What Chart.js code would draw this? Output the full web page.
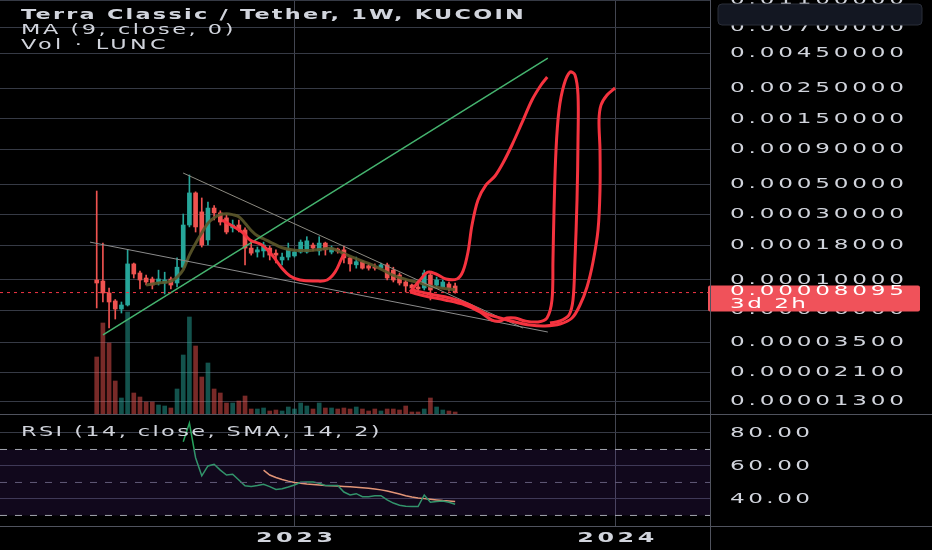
<!DOCTYPE html>
<html>
<head>
<meta charset="utf-8">
<title>Terra Classic / Tether, 1W, KUCOIN</title>
<script src="https://cdn.jsdelivr.net/npm/chart.js@4.4.1/dist/chart.umd.min.js"></script>
<style>
  html, body { margin: 0; padding: 0; background: #000; width: 932px; height: 550px; overflow: hidden; font-family: "DejaVu Sans", sans-serif; }
  .pane { position: absolute; left: 0; width: 932px; }
  #mainPane { top: 0; height: 414px; }
  #rsiPane { top: 415px; height: 135px; }
  .legend { position: absolute; left: 21px; color: #d1d4dc; font-size: 14px; line-height: 16px; white-space: nowrap; transform-origin: 0 50%; }
  .rule { position: absolute; background: #50535e; }
</style>
</head>
<body>
<div class="pane" id="mainPane"><canvas id="mainChart"></canvas></div>
<div class="pane" id="rsiPane"><canvas id="rsiChart"></canvas></div>
<div class="rule" style="left:0;top:414px;width:932px;height:1px"></div>
<div class="rule" style="left:0;top:526px;width:932px;height:1px"></div>
<div class="rule" style="left:710px;top:0;width:1px;height:550px"></div>
<div class="legend" id="lgTitle" style="top:6px;font-weight:bold">Terra Classic / Tether, 1W, KUCOIN</div>
<div class="legend" id="lgMa" style="top:21px">MA (9, close, 0)</div>
<div class="legend" id="lgVol" style="top:36px">Vol · LUNC</div>
<div class="legend" id="lgRsi" style="top:423px">RSI (14, close, SMA, 14, 2)</div>
<script>
// ===== Dữ liệu nến tuần (chỉ số tuần 0 = nến đầu tiên, tuần 32 = 2023) =====
const opens  = [1.00e-4, 0.983e-4, 0.804e-4, 0.703e-4, 0.614e-4, 0.657e-4, 1.31e-4, 1.125e-4, 1.034e-4, 1.017e-4,
                0.967e-4, 0.951e-4, 1.017e-4, 0.951e-4, 1.24e-4, 2.52e-4, 4.32e-4, 3.14e-4, 1.96e-4, 3.35e-4,
                3.09e-4, 2.84e-4, 2.40e-4, 2.52e-4, 2.32e-4, 1.71e-4, 1.60e-4, 1.63e-4, 1.71e-4, 1.57e-4,
                1.40e-4, 1.47e-4, 1.50e-4, 1.60e-4, 1.60e-4, 1.80e-4, 1.63e-4, 1.86e-4, 1.60e-4, 1.68e-4,
                1.66e-4, 1.45e-4, 1.29e-4, 1.36e-4, 1.27e-4, 1.24e-4, 1.22e-4, 1.29e-4, 1.18e-4, 1.088e-4,
                0.967e-4, 0.919e-4, 0.889e-4, 0.874e-4, 1.088e-4, 0.919e-4, 0.889e-4, 0.935e-4, 0.904e-4];
const highs  = [4.46e-4, 1.86e-4, 0.874e-4, 0.72e-4, 0.691e-4, 1.66e-4, 1.33e-4, 1.16e-4, 1.088e-4, 1.05e-4,
                1.18e-4, 1.14e-4, 1.05e-4, 1.45e-4, 3.03e-4, 5.84e-4, 4.40e-4, 3.97e-4, 3.71e-4, 3.50e-4,
                3.20e-4, 3.00e-4, 2.74e-4, 2.74e-4, 2.40e-4, 1.96e-4, 1.74e-4, 1.89e-4, 1.77e-4, 1.66e-4,
                1.57e-4, 1.86e-4, 1.66e-4, 1.96e-4, 2.07e-4, 1.86e-4, 2.07e-4, 1.89e-4, 1.77e-4, 1.71e-4,
                1.77e-4, 1.47e-4, 1.47e-4, 1.38e-4, 1.31e-4, 1.31e-4, 1.33e-4, 1.33e-4, 1.24e-4, 1.125e-4,
                1.00e-4, 0.935e-4, 0.967e-4, 1.18e-4, 1.14e-4, 1.05e-4, 1.00e-4, 0.967e-4, 0.951e-4];
const lows   = [0.625e-4, 0.691e-4, 0.446e-4, 0.519e-4, 0.574e-4, 0.646e-4, 1.034e-4, 0.86e-4, 0.919e-4, 0.86e-4,
                0.919e-4, 0.79e-4, 0.86e-4, 0.889e-4, 1.22e-4, 2.44e-4, 2.24e-4, 1.74e-4, 1.80e-4, 2.74e-4,
                2.52e-4, 2.17e-4, 2.24e-4, 2.24e-4, 1.29e-4, 1.52e-4, 1.47e-4, 1.47e-4, 1.40e-4, 1.33e-4,
                1.29e-4, 1.40e-4, 1.47e-4, 1.57e-4, 1.57e-4, 1.63e-4, 1.52e-4, 1.52e-4, 1.55e-4, 1.57e-4,
                1.33e-4, 1.16e-4, 1.22e-4, 1.20e-4, 1.18e-4, 1.18e-4, 1.20e-4, 1.00e-4, 0.967e-4, 0.919e-4,
                0.817e-4, 0.845e-4, 0.817e-4, 0.845e-4, 0.715e-4, 0.874e-4, 0.874e-4, 0.83e-4, 0.80e-4];
const closes = [0.951e-4, 0.804e-4, 0.691e-4, 0.614e-4, 0.657e-4, 1.31e-4, 1.106e-4, 1.00e-4, 0.967e-4, 0.919e-4,
                1.017e-4, 1.00e-4, 0.919e-4, 1.24e-4, 2.52e-4, 4.32e-4, 2.44e-4, 1.80e-4, 3.35e-4, 3.09e-4,
                2.65e-4, 2.24e-4, 2.52e-4, 2.32e-4, 1.71e-4, 1.57e-4, 1.66e-4, 1.80e-4, 1.52e-4, 1.52e-4,
                1.47e-4, 1.66e-4, 1.60e-4, 1.89e-4, 1.93e-4, 1.71e-4, 1.86e-4, 1.66e-4, 1.71e-4, 1.63e-4,
                1.45e-4, 1.31e-4, 1.36e-4, 1.22e-4, 1.22e-4, 1.22e-4, 1.29e-4, 1.034e-4, 1.00e-4, 0.951e-4,
                0.904e-4, 0.874e-4, 0.86e-4, 1.125e-4, 0.845e-4, 1.00e-4, 0.967e-4, 0.874e-4, 0.8095e-4];
// Khối lượng (đơn vị tương đối)
const volumes = [57, 91, 71, 33, 16, 102, 21, 17, 12, 12, 9, 8, 6, 25, 59, 97, 68, 37, 51, 25,
                 21, 11, 11, 13, 18, 5, 5, 6, 3, 4, 3, 7, 5, 11, 8, 5, 11, 6, 6, 5,
                 6, 5, 7, 5, 3, 5, 3, 5, 5, 4, 8, 2, 2, 5, 16, 7, 4, 3, 2];

// MA(9)
const maWeeks  = [8, 10, 12, 13, 14, 15, 16, 17, 18, 19, 20, 21, 22, 23, 24, 25, 26, 27, 28, 30,
                  32, 34, 36, 38, 40, 42, 44, 46, 48, 50, 52, 54, 56, 58];
const maValues = [0.92e-4, 0.95e-4, 0.98e-4, 1.05e-4, 1.19e-4, 1.52e-4, 1.85e-4, 2.2e-4, 2.6e-4, 2.85e-4,
                  3.0e-4, 3.05e-4, 3.0e-4, 2.9e-4, 2.6e-4, 2.3e-4, 2.1e-4, 2.0e-4, 1.9e-4, 1.72e-4,
                  1.65e-4, 1.64e-4, 1.67e-4, 1.70e-4, 1.56e-4, 1.43e-4, 1.32e-4, 1.20e-4, 1.08e-4, 1.01e-4,
                  0.96e-4, 0.90e-4, 0.87e-4, 0.85e-4];

// RSI 14 và SMA 14 của RSI
const rsiStart = 14;
const rsiValues = [74.7, 86, 65, 54, 60, 61, 57.5, 54.5, 55, 51.5, 48, 47.5, 48.1, 48.9, 47.5, 45.7, 46.2, 47.2,
                   48.5, 50.1, 50.3, 50.3, 49.5, 48.1, 48.1, 48.1, 44.2, 42.4, 43.2, 41.4, 41.4, 42.0, 42.0,
                   39.4, 37.5, 36.2, 35.6, 35.4, 35.4, 42.4, 38.0, 38.4, 38.8, 38.0, 36.8];
const rsiMaStart = 27;
const rsiMaValues = [57.5, 54.5, 53, 51.8, 50.8, 50.0, 49.5, 49.0, 48.8, 48.5, 48.2, 48.0, 47.8, 47.6, 47.4, 47.1,
                     46.8, 46.5, 46.0, 45.5, 44.8, 43.9, 43.0, 42.0, 41.2, 40.6, 40.2, 39.8, 39.4, 39.0, 38.7, 38.4];
const rsiLevels = [70, 50, 30];

// Nhãn trục
const priceTicks = [0.011, 0.007, 0.0045, 0.0025, 0.0015, 0.0009, 0.0005, 0.0003, 0.00018, 0.0001,
                    0.00006, 0.000035, 0.000021, 0.000013];
const rsiTicks = [40, 60, 80];
const yearTicks = [32, 84];
const yearLabels = ["2023", "2024"];
const countdown = "3d 2h";

// Hình vẽ tay trên biểu đồ: [tuần, giá]
const trendUp     = [[1.02, 0.397e-4], [73.0, 41.7e-4]];
const wedgeTop    = [[13.98, 6.04e-4], [68.98, 0.446e-4]];
const wedgeBottom = [[-1.08, 1.89e-4], [73.0, 0.417e-4]];
const sketchA = [[20.28, 2.74e-4], [23.51, 2.24e-4], [24.81, 1.96e-4], [26.75, 1.80e-4], [28.37, 1.52e-4],
                 [29.98, 1.22e-4], [31.28, 1.07e-4], [32.9, 1.00e-4], [35.33, 0.983e-4], [37.27, 1.00e-4],
                 [38.56, 1.14e-4], [39.69, 1.45e-4], [40.18, 1.55e-4]];
const sketchB = [[50.7, 0.817e-4], [52.31, 1.00e-4], [53.6, 1.14e-4], [54.9, 1.106e-4], [56.5, 1.017e-4],
                 [58.3, 1.017e-4], [59.27, 1.16e-4], [60.08, 1.60e-4], [60.73, 2.52e-4], [61.7, 3.84e-4],
                 [63.0, 4.94e-4], [64.45, 5.74e-4], [65.74, 7.14e-4], [67.2, 9.67e-4], [68.8, 14.0e-4],
                 [70.44, 20.6e-4], [71.9, 26.5e-4], [72.9, 30.3e-4]];
const sketchC = [[50.7, 0.817e-4], [53.12, 0.764e-4], [56.36, 0.715e-4], [59.6, 0.657e-4], [62.02, 0.584e-4],
                 [63.96, 0.510e-4], [65.26, 0.502e-4], [66.39, 0.528e-4], [67.69, 0.528e-4], [69.3, 0.502e-4],
                 [71.41, 0.494e-4], [72.86, 0.528e-4], [73.67, 0.715e-4], [73.83, 1.40e-4], [74.0, 3.24e-4],
                 [74.32, 8.88e-4], [74.81, 17.4e-4], [75.6, 26.5e-4], [76.58, 32.9e-4], [77.39, 31.4e-4],
                 [77.88, 22.5e-4], [77.88, 10.5e-4], [77.72, 3.84e-4], [77.39, 1.40e-4], [77.07, 0.715e-4],
                 [76.42, 0.555e-4], [74.97, 0.502e-4], [73.35, 0.485e-4]];
const sketchD = [[51.02, 0.845e-4], [53.92, 0.79e-4], [57.15, 0.739e-4], [60.07, 0.668e-4], [62.82, 0.574e-4],
                 [65.26, 0.528e-4], [67.69, 0.494e-4], [70.11, 0.469e-4], [72.54, 0.462e-4], [74.97, 0.477e-4],
                 [76.91, 0.528e-4], [78.2, 0.657e-4], [79.34, 0.889e-4], [80.31, 1.353e-4], [81.12, 2.32e-4],
                 [81.44, 4.53e-4], [81.44, 8.89e-4], [81.28, 14.7e-4], [81.6, 18.9e-4], [82.58, 22.4e-4],
                 [83.88, 25.2e-4]];

// ===== Màu =====
const UP = "#26a69a";
const DOWN = "#ef5350";
const VOL_UP = "rgba(38,166,154,0.5)";
const VOL_DOWN = "rgba(239,83,80,0.5)";
const SKETCH = "#f5333f";
const TEXT = "#d1d4dc";
const GRID = "#363a45";

const X_MIN = -15.65, X_MAX = 99.24;
const lastClose = closes[closes.length - 1];
const isUp = closes.map((c, i) => c >= opens[i]);
const toXY = (arr) => arr.map(([x, y]) => ({ x, y }));

// chữ kéo giãn ngang kiểu ảnh chụp màn hình
function drawText(ctx, text, x, y, width, font, color, align, sx) {
  sx = sx || 1.65;
  ctx.save();
  ctx.font = font;
  ctx.letterSpacing = "0px";
  const n = text.length;
  const w0 = ctx.measureText(text).width;
  const ls = Math.max(0, (width / sx - w0) / (n - 1));
  ctx.letterSpacing = ls + "px";
  const x0 = align === "center" ? x - width / 2 : x;
  ctx.translate(x0, y);
  ctx.scale(sx, 1);
  ctx.fillStyle = color;
  ctx.textAlign = "left";
  ctx.textBaseline = "middle";
  ctx.fillText(text, 0, 0);
  ctx.restore();
}

function lineSet(points, color, width, extra) {
  return Object.assign({
    type: "line",
    data: toXY(points),
    borderColor: color,
    borderWidth: width,
    pointRadius: 0,
    fill: false,
    yAxisID: "y",
  }, extra || {});
}

const AXIS_FONT = '14px "DejaVu Sans"';

// ===== Biểu đồ chính: nến + khối lượng + MA + hình vẽ =====
const priceAxisPlugin = {
  id: "priceAxis",
  afterDraw(chart) {
    const ctx = chart.ctx;
    const y = chart.scales.y;
    const right = chart.chartArea.right;
    y.ticks.forEach((t) => {
      drawText(ctx, t.value.toFixed(8), right + 20, y.getPixelForValue(t.value), 174, AXIS_FONT, TEXT, "left");
    });
    // nút cài đặt tối ở góc trên
    ctx.save();
    ctx.fillStyle = "#131722";
    ctx.strokeStyle = "#2a2e39";
    ctx.beginPath();
    ctx.roundRect(718, 4, 204, 21, 4);
    ctx.fill();
    ctx.stroke();
    // nhãn giá hiện tại
    const py = y.getPixelForValue(lastClose);
    ctx.fillStyle = "#f0525a";
    ctx.beginPath();
    ctx.roundRect(708, py - 7, 212, 26, 2);
    ctx.fill();
    ctx.restore();
    drawText(ctx, lastClose.toFixed(8), right + 20, py - 1, 174, AXIS_FONT, "#ffffff", "left");
    drawText(ctx, countdown, right + 20, py + 11.5, 76, AXIS_FONT, "#ffffff", "left");
  },
};

const ctxMain = document.getElementById("mainChart");
new Chart(ctxMain, {
  type: "bar",
  data: {
    datasets: [
      {
        label: "Vol",
        yAxisID: "yVol",
        data: volumes.map((v, i) => ({ x: i, y: v })),
        backgroundColor: isUp.map((u) => (u ? VOL_UP : VOL_DOWN)),
        barThickness: 4,
        grouped: false,
        order: 10,
      },
      {
        label: "wick",
        yAxisID: "y",
        data: lows.map((l, i) => ({ x: i, y: [l, highs[i]] })),
        backgroundColor: isUp.map((u) => (u ? UP : DOWN)),
        barThickness: 1,
        grouped: false,
        order: 6,
      },
      {
        label: "body",
        yAxisID: "y",
        data: opens.map((o, i) => ({ x: i, y: [o, closes[i]] })),
        backgroundColor: isUp.map((u) => (u ? UP : DOWN)),
        barThickness: 4,
        minBarLength: 1,
        grouped: false,
        order: 5,
      },
      lineSet(maWeeks.map((w, i) => [w, maValues[i]]), "rgba(92,88,42,0.9)", 3, { tension: 0.35, order: 4 }),
      lineSet(trendUp, "#45b46f", 1.5, { order: 3 }),
      lineSet(wedgeTop, "#8c8a80", 1, { order: 3 }),
      lineSet(wedgeBottom, "#8c8c8c", 1, { order: 3 }),
      lineSet([[X_MIN, lastClose], [X_MAX, lastClose]], "#f23645", 1, { borderDash: [3, 4], order: 2 }),
      lineSet(sketchA, SKETCH, 3, { tension: 0.4, order: 1 }),
      lineSet(sketchB, SKETCH, 3, { tension: 0.35, order: 1 }),
      lineSet(sketchC, SKETCH, 3, { tension: 0.35, order: 1 }),
      lineSet(sketchD, SKETCH, 3, { tension: 0.35, order: 1 }),
    ],
  },
  options: {
    responsive: true,
    maintainAspectRatio: false,
    devicePixelRatio: 1,
    animation: false,
    layout: { padding: 0 },
    plugins: { legend: { display: false }, tooltip: { enabled: false } },
    scales: {
      x: {
        type: "linear",
        min: X_MIN,
        max: X_MAX,
        offset: false,
        afterBuildTicks: (s) => { s.ticks = yearTicks.map((v) => ({ value: v })); },
        afterFit: (s) => { s.height = 0; },
        ticks: { display: false },
        grid: { color: "#434651", drawTicks: false, offset: false },
        border: { display: false },
      },
      y: {
        type: "logarithmic",
        position: "right",
        min: 1.0517e-5,
        max: 1.106e-2,
        afterBuildTicks: (s) => { s.ticks = priceTicks.map((v) => ({ value: v })); },
        afterFit: (s) => { s.width = 222; },
        ticks: { display: false },
        grid: { color: GRID, drawTicks: false },
        border: { display: false },
      },
      yVol: { type: "linear", display: false, min: 0, max: 414 },
    },
  },
  plugins: [priceAxisPlugin],
});

// ===== Khung RSI =====
const rsiAxisPlugin = {
  id: "rsiAxis",
  afterDraw(chart) {
    const ctx = chart.ctx;
    const y = chart.scales.y;
    const x = chart.scales.x;
    const right = chart.chartArea.right;
    rsiTicks.forEach((v) => {
      drawText(ctx, v.toFixed(2), right + 20, y.getPixelForValue(v), 80, AXIS_FONT, TEXT, "left");
    });
    yearTicks.forEach((w, i) => {
      drawText(ctx, yearLabels[i], x.getPixelForValue(w), 123, 77, 'bold 14px "DejaVu Sans"', TEXT, "center", 1.7);
    });
  },
};

const levelLine = (v, color, extra) =>
  lineSet([[X_MIN, v], [X_MAX, v]], color, 1, Object.assign({ borderDash: [7, 8] }, extra || {}));

const ctxRsi = document.getElementById("rsiChart");
new Chart(ctxRsi, {
  type: "line",
  data: {
    datasets: [
      levelLine(rsiLevels[0], "#a3a6af"),
      levelLine(rsiLevels[2], "#a3a6af", { fill: "-1", backgroundColor: "rgba(120,60,200,0.14)" }),
      levelLine(rsiLevels[1], "#5d606b"),
      lineSet(rsiValues.map((v, i) => [rsiStart + i, v]), "#27a35c", 1.5, { tension: 0 }),
      lineSet(rsiMaValues.map((v, i) => [rsiMaStart + i, v]), "#f4a56b", 1.5, { tension: 0 }),
    ],
  },
  options: {
    responsive: true,
    maintainAspectRatio: false,
    devicePixelRatio: 1,
    animation: false,
    layout: { padding: 0 },
    plugins: { legend: { display: false }, tooltip: { enabled: false } },
    scales: {
      x: {
        type: "linear",
        min: X_MIN,
        max: X_MAX,
        afterBuildTicks: (s) => { s.ticks = yearTicks.map((v) => ({ value: v })); },
        afterFit: (s) => { s.height = 24; },
        ticks: { display: false },
        grid: { color: "#434651", drawTicks: false },
        border: { display: false },
      },
      y: {
        type: "linear",
        position: "right",
        min: 23.6,
        max: 90.9,
        afterBuildTicks: (s) => { s.ticks = rsiTicks.map((v) => ({ value: v })); },
        afterFit: (s) => { s.width = 222; },
        ticks: { display: false },
        grid: { color: GRID, drawTicks: false },
        border: { display: false },
      },
    },
  },
  plugins: [rsiAxisPlugin],
});

// ===== Chú thích: kéo giãn cho khớp độ rộng =====
function stretchLegend(id, width) {
  const el = document.getElementById(id);
  const sx = 1.6;
  const n = el.textContent.length;
  const nat = el.getBoundingClientRect().width;
  el.style.letterSpacing = Math.max(0, (width / sx - nat) / n) + "px";
  el.style.transform = "scaleX(" + sx + ")";
}
stretchLegend("lgTitle", 505);
stretchLegend("lgMa", 215);
stretchLegend("lgVol", 148);
stretchLegend("lgRsi", 361);
</script>
</body>
</html>
